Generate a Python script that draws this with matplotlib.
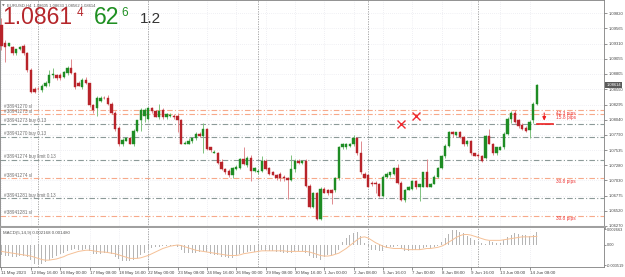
import numpy as np
import matplotlib
matplotlib.use("Agg")
import matplotlib.pyplot as plt
from matplotlib.transforms import blended_transform_factory

plt.rcParams['font.family'] = ['Liberation Sans', 'DejaVu Sans']

# DATA  EURUSD, H4  (11 May 2023 08:00 -> 14 Jun 2023 12:00)
opens = [1.0962, 1.0933, 1.0928, 1.0925, 1.0915, 1.0922, 1.0927, 1.0915, 1.0887, 1.0856,
         1.0856, 1.0853, 1.0861, 1.0866, 1.0878, 1.0878, 1.0878, 1.0875, 1.0882, 1.0891,
         1.0882, 1.0866, 1.0858, 1.0870, 1.0865, 1.0828, 1.0824, 1.0836, 1.0841, 1.0841,
         1.0831, 1.0816, 1.0791, 1.0763, 1.0769, 1.0773, 1.0763, 1.0786, 1.0803, 1.0811,
         1.0806, 1.0823, 1.0818, 1.0809, 1.0820, 1.0809, 1.0811, 1.0811, 1.0811, 1.0803,
         1.0764, 1.0764, 1.0768, 1.0773, 1.0781, 1.0777, 1.0789, 1.0758, 1.0749, 1.0749,
         1.0734, 1.0722, 1.0719, 1.0711, 1.0722, 1.0724, 1.0739, 1.0729, 1.0741, 1.0719,
         1.0716, 1.0719, 1.0736, 1.0724, 1.0716, 1.0712, 1.0714, 1.0709, 1.0707, 1.0704,
         1.0722, 1.0736, 1.0732, 1.0736, 1.0694, 1.0659, 1.0681, 1.0639, 1.0689, 1.0687,
         1.0687, 1.0686, 1.0707, 1.0759, 1.0759, 1.0761, 1.0763, 1.0774, 1.0748, 1.0714,
         1.0711, 1.0699, 1.0699, 1.0697, 1.0677, 1.0709, 1.0711, 1.0714, 1.0724, 1.0699,
         1.0670, 1.0687, 1.0689, 1.0701, 1.0691, 1.0692, 1.0716, 1.0692, 1.0697, 1.0709,
         1.0724, 1.0744, 1.0761, 1.0784, 1.0779, 1.0783, 1.0776, 1.0763, 1.0768, 1.0748,
         1.0746, 1.0744, 1.0741, 1.0777, 1.0764, 1.0748, 1.0754, 1.0758, 1.0781, 1.0806,
         1.0815, 1.0803, 1.0796, 1.0791, 1.0787, 1.0803, 1.0831]
highs = [1.0974, 1.0937, 1.0933, 1.0927, 1.0923, 1.0927, 1.0930, 1.0917, 1.0890, 1.0858,
         1.0858, 1.0863, 1.0868, 1.0887, 1.0890, 1.0880, 1.0882, 1.0885, 1.0893, 1.0905,
         1.0884, 1.0868, 1.0873, 1.0875, 1.0866, 1.0831, 1.0843, 1.0843, 1.0843, 1.0845,
         1.0833, 1.0818, 1.0793, 1.0773, 1.0776, 1.0776, 1.0789, 1.0804, 1.0823, 1.0823,
         1.0825, 1.0826, 1.0820, 1.0831, 1.0823, 1.0815, 1.0815, 1.0813, 1.0815, 1.0806,
         1.0769, 1.0773, 1.0774, 1.0783, 1.0783, 1.0799, 1.0791, 1.0759, 1.0754, 1.0751,
         1.0739, 1.0724, 1.0722, 1.0726, 1.0729, 1.0741, 1.0758, 1.0744, 1.0746, 1.0726,
         1.0722, 1.0743, 1.0739, 1.0726, 1.0719, 1.0714, 1.0716, 1.0711, 1.0709, 1.0746,
         1.0739, 1.0739, 1.0737, 1.0739, 1.0697, 1.0684, 1.0684, 1.0692, 1.0692, 1.0689,
         1.0689, 1.0709, 1.0761, 1.0766, 1.0766, 1.0766, 1.0779, 1.0776, 1.0769, 1.0716,
         1.0712, 1.0701, 1.0701, 1.0699, 1.0711, 1.0716, 1.0717, 1.0726, 1.0731, 1.0701,
         1.0689, 1.0694, 1.0704, 1.0704, 1.0697, 1.0717, 1.0739, 1.0699, 1.0711, 1.0726,
         1.0746, 1.0763, 1.0786, 1.0786, 1.0784, 1.0786, 1.0777, 1.0771, 1.0771, 1.0749,
         1.0748, 1.0746, 1.0779, 1.0789, 1.0766, 1.0759, 1.0761, 1.0783, 1.0808, 1.0818,
         1.0821, 1.0806, 1.0799, 1.0793, 1.0803, 1.0833, 1.0863]
lows = [1.0920, 1.0900, 1.0927, 1.0912, 1.0912, 1.0920, 1.0912, 1.0884, 1.0848, 1.0848,
        1.0853, 1.0850, 1.0858, 1.0861, 1.0873, 1.0870, 1.0870, 1.0873, 1.0878, 1.0880,
        1.0856, 1.0860, 1.0856, 1.0863, 1.0826, 1.0816, 1.0811, 1.0833, 1.0838, 1.0828,
        1.0813, 1.0786, 1.0761, 1.0761, 1.0768, 1.0763, 1.0761, 1.0783, 1.0786, 1.0801,
        1.0804, 1.0816, 1.0808, 1.0806, 1.0806, 1.0806, 1.0809, 1.0806, 1.0784, 1.0763,
        1.0763, 1.0763, 1.0766, 1.0771, 1.0776, 1.0749, 1.0754, 1.0751, 1.0748, 1.0731,
        1.0721, 1.0714, 1.0709, 1.0707, 1.0721, 1.0722, 1.0729, 1.0726, 1.0702, 1.0716,
        1.0714, 1.0717, 1.0721, 1.0712, 1.0711, 1.0704, 1.0702, 1.0702, 1.0672, 1.0702,
        1.0717, 1.0731, 1.0731, 1.0692, 1.0657, 1.0657, 1.0636, 1.0636, 1.0681, 1.0679,
        1.0664, 1.0684, 1.0704, 1.0756, 1.0756, 1.0759, 1.0761, 1.0746, 1.0714, 1.0706,
        1.0691, 1.0694, 1.0682, 1.0675, 1.0675, 1.0706, 1.0709, 1.0712, 1.0697, 1.0668,
        1.0667, 1.0686, 1.0687, 1.0689, 1.0669, 1.0691, 1.0691, 1.0691, 1.0696, 1.0706,
        1.0722, 1.0741, 1.0759, 1.0776, 1.0777, 1.0774, 1.0761, 1.0761, 1.0746, 1.0743,
        1.0741, 1.0734, 1.0739, 1.0763, 1.0746, 1.0746, 1.0753, 1.0756, 1.0779, 1.0799,
        1.0799, 1.0791, 1.0787, 1.0784, 1.0773, 1.0799, 1.0828]
closes = [1.0928, 1.0925, 1.0932, 1.0915, 1.0922, 1.0925, 1.0915, 1.0887, 1.0850, 1.0850,
          1.0855, 1.0861, 1.0866, 1.0878, 1.0880, 1.0873, 1.0873, 1.0883, 1.0891, 1.0882,
          1.0858, 1.0861, 1.0870, 1.0865, 1.0828, 1.0820, 1.0841, 1.0841, 1.0840, 1.0831,
          1.0816, 1.0789, 1.0763, 1.0771, 1.0774, 1.0764, 1.0786, 1.0803, 1.0820, 1.0821,
          1.0823, 1.0818, 1.0809, 1.0818, 1.0809, 1.0813, 1.0812, 1.0808, 1.0803, 1.0764,
          1.0766, 1.0769, 1.0773, 1.0781, 1.0777, 1.0789, 1.0756, 1.0753, 1.0751, 1.0732,
          1.0722, 1.0716, 1.0711, 1.0724, 1.0726, 1.0739, 1.0731, 1.0741, 1.0719, 1.0724,
          1.0719, 1.0736, 1.0722, 1.0714, 1.0712, 1.0706, 1.0706, 1.0706, 1.0704, 1.0722,
          1.0736, 1.0732, 1.0736, 1.0694, 1.0659, 1.0681, 1.0639, 1.0689, 1.0682, 1.0681,
          1.0681, 1.0707, 1.0759, 1.0764, 1.0764, 1.0764, 1.0774, 1.0748, 1.0716, 1.0707,
          1.0692, 1.0696, 1.0696, 1.0677, 1.0709, 1.0714, 1.0716, 1.0724, 1.0699, 1.0670,
          1.0687, 1.0692, 1.0701, 1.0691, 1.0696, 1.0716, 1.0692, 1.0697, 1.0709, 1.0724,
          1.0744, 1.0761, 1.0784, 1.0781, 1.0783, 1.0776, 1.0764, 1.0768, 1.0748, 1.0744,
          1.0743, 1.0736, 1.0777, 1.0764, 1.0748, 1.0758, 1.0759, 1.0781, 1.0806, 1.0815,
          1.0801, 1.0793, 1.0789, 1.0786, 1.0801, 1.0831, 1.08614]

# MACD main (histogram) and signal, in units of 0.001
macd_main = [-1.8, -1.9, -1.9, -2.0, -2.0, -1.9, -1.9, -2.1,
             -2.6, -3.2, -3.4, -3.3, -3.0,
             -2.6, -2.2, -1.9, -1.6, -1.3,
             -1.0, -0.8, -0.7, -0.8, -0.8, -0.7,
             -1.1, -1.5, -1.6, -1.5, -1.4, -1.4,
             -1.6, -2.0, -2.4, -2.8, -2.8, -2.7, -2.6, -2.3,
             -1.8, -1.3, -0.9,
             -0.5, -0.3, -0.3, -0.2, -0.2, -0.2, -0.2,
             -0.3, -0.9, -1.3, -1.4, -1.4, -1.3, -1.2, -1.1,
             -1.2, -1.5, -1.7, -1.8, -2.0, -2.1, -2.2, -2.2,
             -1.8, -1.6, -1.3, -1.2, -1.1, -1.2, -1.1,
             -0.9, -1.0, -1.0, -1.1, -1.2, -1.2, -1.3, -1.3, -1.3, -1.1, -1.0,
             -1.0, -1.4, -1.9, -2.3, -2.3, -2.5, -2.0, -1.8, -1.7, -1.6,
             -0.9, 0.5, 1.2, 1.7, 2.0, 2.2,
             1.5, 0.3, -0.3, -0.8, -0.9, -1.0, -1.1, -0.6, -0.4,
             -0.3, -0.1, -0.5, -1.0, -1.0, -0.9, -0.8, -0.8, -0.6, -0.3, -0.6, -0.4,
             -0.1, 0.5, 1.2, 1.9, 2.5, 2.5, 2.3, 2.0, 1.5,
             1.2, 0.8, 0.5, 0.3, 0.2, 0.7, 0.6, 0.4, 0.4,
             0.9, 1.4, 1.8, 2.0, 1.9, 1.8, 1.7, 1.6, 1.7, 2.168]
macd_signal = [-1.1, -1.2, -1.3, -1.4, -1.5, -1.6, -1.7, -1.8, -1.9, -2.1, -2.3, -2.5,
               -2.6, -2.6, -2.5, -2.4, -2.2, -2.0,
               -1.7, -1.5, -1.3, -1.1, -1.0, -0.9,
               -0.9, -1.0, -1.1, -1.2, -1.2, -1.3,
               -1.4, -1.5, -1.7, -1.9, -2.1, -2.3, -2.3, -2.3,
               -2.2, -2.0, -1.8, -1.5, -1.2, -0.9, -0.6, -0.4, -0.2, -0.1,
               0.0, -0.1, -0.3, -0.5, -0.7, -0.9, -1.0, -1.1,
               -1.2, -1.3, -1.4, -1.5, -1.6, -1.7, -1.8, -1.8,
               -1.8, -1.7, -1.5, -1.4, -1.3, -1.2, -1.1,
               -1.0, -1.0, -1.0, -1.0, -1.0, -1.0, -1.0, -1.1, -1.1, -1.1, -1.1,
               -1.1, -1.1, -1.2, -1.4, -1.6, -1.8, -1.9, -1.9, -1.8, -1.6,
               -1.4, -1.0, -0.6, -0.1, 0.4, 0.9,
               1.3, 1.4, 1.2, 0.8, 0.4, 0.1, -0.2, -0.4, -0.5,
               -0.6, -0.6, -0.6, -0.7, -0.8, -0.8, -0.8, -0.8, -0.7, -0.6, -0.6, -0.5,
               -0.4, -0.2, 0.1, 0.5, 0.9, 1.3, 1.6, 1.8, 1.8,
               1.7, 1.5, 1.3, 1.1, 0.9, 0.8, 0.8, 0.8, 0.8,
               0.9, 1.0, 1.1, 1.2, 1.3, 1.4, 1.4, 1.4, 1.45, 1.48]

date_ticks = [0, 8, 16, 24, 32, 40, 48, 56, 64, 72, 80, 88, 96, 104, 112, 120, 128, 136, 144]
date_labels = ["11 May 2023", "12 May 16:00", "16 May 00:00", "17 May 08:00", "18 May 16:00",
               "22 May 00:00", "23 May 08:00", "24 May 16:00", "26 May 00:00", "29 May 08:00",
               "30 May 16:00", "1 Jun 00:00", "2 Jun 08:00", "5 Jun 16:00", "7 Jun 00:00",
               "8 Jun 08:00", "9 Jun 16:00", "13 Jun 00:00", "14 Jun 08:00"]
week_starts = [10, 40, 70, 100, 130]

price_ticks = [1.09820, 1.09565, 1.09310, 1.09055, 1.08805, 1.08550, 1.08295, 1.08040,
               1.07790, 1.07535, 1.07280, 1.07030, 1.06775, 1.06520, 1.06270]
macd_ticks = [0.002663, 0.0, -0.003519]
macd_tick_labels = ["0.002663", "0.00", "-0.003519"]

# order lines
order_prices = [1.0820, 1.0813, 1.0797, 1.0776, 1.0737, 1.0706, 1.0673, 1.0644]
order_labels = ["#38941270 sl", "#38941273 sl", "#38941273 buy 0.13", "#38941270 buy 0.13",
                "#38941274 buy limit 0.13", "#38941274 sl", "#38941281 buy limit 0.13", "#38941281 sl"]
order_kind = ["sl", "sl", "buy", "buy", "buy", "sl", "buy", "sl"]
pips_prices = [1.0820, 1.0813, 1.0706, 1.0644]
pips_labels = ["42.3 pips", "15.8 pips", "30.8 pips", "30.8 pips"]

# closed trades (red crosses) and the arrow at the right
closed_bar = [109, 113]
closed_price = [1.0797, 1.0811]
arrow_bar = 148
arrow_from = 1.0820
arrow_to = 1.0797

bid = 1.08614

# ---------------------------------------------------------------
W, H = 625, 277
fig = plt.figure(figsize=(W / 100, H / 100), dpi=100)
ax = fig.add_axes([0, 50 / H, 604 / W, 227 / H])
ax2 = fig.add_axes([0, 10 / H, 604 / W, 39 / H])

# bar index -> x (1.5 px + 3.667 px per bar)
px = 3.667
x0 = -1.5 / px
x1 = (604 - 1.5) / px

idx = np.arange(len(closes))
o = np.array(opens)
c = np.array(closes)
hi = np.array(highs)
lo = np.array(lows)
up = c >= o

green = "#1e8c24"
red = "#b8232a"

# grid
for p in price_ticks:
    ax.axhline(p, color="#e2e2ea", lw=0.5, ls=(0, (1, 2)), zorder=0)
for t in date_ticks:
    ax.axvline(t, color="#e2e2ea", lw=0.5, ls=(0, (1, 2)), zorder=0)
    ax2.axvline(t, color="#e2e2ea", lw=0.5, ls=(0, (1, 2)), zorder=0)
for t in week_starts:
    ax.axvline(t, color="#9a9a9a", lw=0.6, ls=(0, (1.5, 1.5)), zorder=1)
    ax2.axvline(t, color="#9a9a9a", lw=0.6, ls=(0, (1.5, 1.5)), zorder=1)

# order lines + labels
for p, lab, k in zip(order_prices, order_labels, order_kind):
    col = "#f7a98a" if k == "sl" else "#8c9a98"
    ax.axhline(p, color=col, lw=0.8, ls=(0, (5, 2, 1, 2)), zorder=2)
    ax.text(0.7, p + 0.00012, lab, fontsize=3.3, color="#707070", va="bottom", ha="left")
for p, lab in zip(pips_prices, pips_labels):
    ax.text(151.2, p - 0.0001, lab, fontsize=3.4, color="#ee3030", va="top", ha="left")

# candles
cols = np.where(up, green, red)
wick_cols = np.where(up, "#7fc27f", "#e08a8e")
ax.vlines(idx, lo, hi, colors=wick_cols, lw=0.7, zorder=3)
body_lo = np.minimum(o, c)
body_h = np.maximum(np.abs(c - o), 0.00008)
ax.bar(idx, body_h, bottom=body_lo, width=0.62, color=cols, edgecolor=cols, lw=0.3, zorder=4)

# closed trades and arrow
ax.plot(closed_bar, closed_price, "x", color="#ee2a30", ms=5.5, mew=1.0, zorder=5)
ax.annotate("", xy=(arrow_bar, arrow_to + 0.0001), xytext=(arrow_bar, arrow_from),
            arrowprops=dict(arrowstyle="-|>", color="#ee2020", lw=0.8, mutation_scale=5), zorder=5)
ax.plot([arrow_bar - 2, arrow_bar + 2.5], [arrow_to, arrow_to], color="#ee2020", lw=1.2, zorder=5)

ax.set_xlim(x0, x1)
ax.set_ylim(1.0625, 1.1004)
ax.set_xticks([])
ax.yaxis.tick_right()
ax.set_yticks(price_ticks)
ax.set_yticklabels(["%.5f" % p for p in price_ticks])
ax.tick_params(axis="y", labelsize=3.0, labelcolor="#444444", length=2, width=0.5,
               color="#666666", pad=1.2)
for s in ax.spines.values():
    s.set_color("#808080")
    s.set_linewidth(0.6)
ax.spines["bottom"].set_color("#a0a0a0")
ax.spines["bottom"].set_linewidth(2.2)

# current price box
tr = blended_transform_factory(ax.transAxes, ax.transData)
ax.text(1.004, bid, "%.5f" % bid, transform=tr, fontsize=3.0, color="white", va="center",
        ha="left", bbox=dict(boxstyle="square,pad=0.25", fc="#5a5a5a", ec="none"), zorder=6)

# MACD panel
ax2.bar(idx, np.array(macd_main) / 1000, width=0.32, color="#b5b5b5", zorder=2)
ax2.plot(idx, np.array(macd_signal) / 1000, color="#f5c096", lw=0.7, zorder=3)
ax2.set_xlim(x0, x1)
ax2.set_ylim(-0.00378, 0.00292)
ax2.yaxis.tick_right()
ax2.set_yticks(macd_ticks)
ax2.set_yticklabels(macd_tick_labels)
ax2.tick_params(axis="y", labelsize=2.8, labelcolor="#444444", length=1.5, width=0.5,
                color="#666666", pad=0.8)
ax2.set_xticks(date_ticks)
ax2.set_xticklabels(date_labels, ha="left")
ax2.tick_params(axis="x", labelsize=3.2, labelcolor="#444444", length=2, width=0.5,
                color="#666666", pad=1.0)
for s in ax2.spines.values():
    s.set_color("#808080")
    s.set_linewidth(0.6)
ax2.spines["top"].set_visible(False)
ax2.text(3 / 604, 0.93, "MACD(5,14,9) 0.002168 0.001480", transform=ax2.transAxes,
         fontsize=3.2, color="#555555", va="top", ha="left")

# header texts
def fx(x):
    return x / W

def fy(y):
    return 1 - y / H

fig.text(fx(1.5), fy(6.5), "\u25bc", fontsize=2.5, color="#777777", va="baseline",
         family="DejaVu Sans")
fig.text(fx(7), fy(6.5), "EURUSD,H4  1.08605 1.08633 1.08562 1.08614", fontsize=3.0,
         color="#555555", va="baseline")
fig.text(fx(2.5), fy(24), "1.0861", fontsize=16.5, color="#b5262b", va="baseline")
fig.text(fx(77), fy(16.5), "4", fontsize=8.5, color="#b5262b", va="baseline")
fig.text(fx(93.5), fy(24), "62", fontsize=16.5, color="#1f8f22", va="baseline")
fig.text(fx(121), fy(16.5), "6", fontsize=8.5, color="#1f8f22", va="baseline")
fig.text(fx(139.5), fy(23), "1.2", fontsize=11, color="#333333", va="baseline")

fig.savefig("out.png", dpi=100)
